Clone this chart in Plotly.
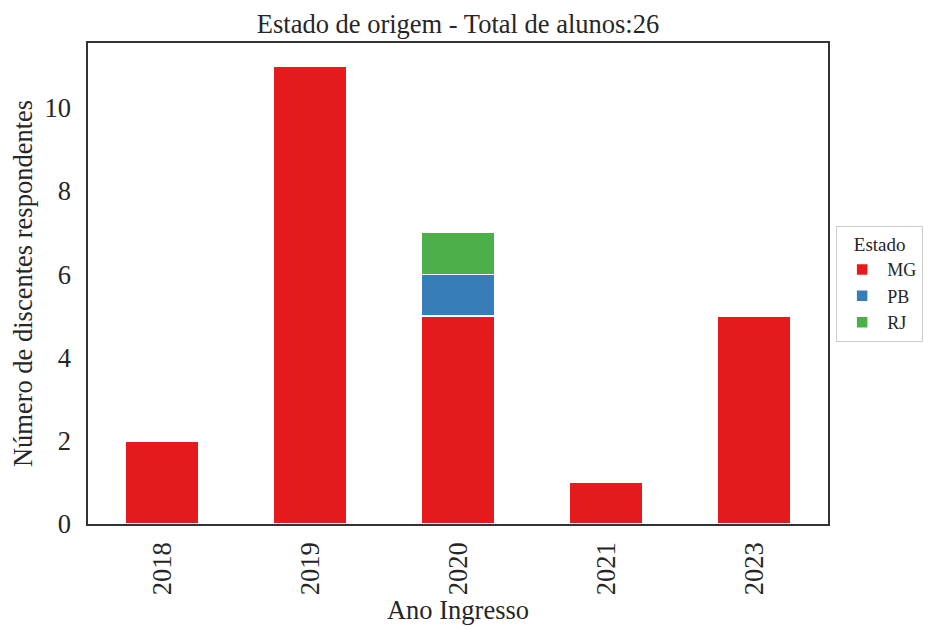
import plotly.graph_objects as go

anos = ["2018", "2019", "2020", "2021", "2023"]
mg = [2, 11, 5, 1, 5]
pb = [0, 0, 1, 0, 0]
rj = [0, 0, 1, 0, 0]
series = [("MG", mg, "#e41a1c"), ("PB", pb, "#377eb8"), ("RJ", rj, "#4daf4a")]

fig = go.Figure()
for name, vals, color in series:
    fig.add_trace(go.Bar(x=anos, y=vals, name=name, marker_color=color,
                         marker_line_color="white", marker_line_width=1.5,
                         width=0.49, legendgroup=name))

FONT = "Liberation Serif"
INK = "#262626"
SZ = 26.5
fig.update_layout(
    template="none",
    barmode="stack",
    width=933, height=629,
    margin=dict(l=80, r=113, t=35, b=113, autoexpand=False),
    paper_bgcolor="white", plot_bgcolor="white",
    font=dict(family=FONT, size=SZ, color=INK),
    title=dict(text="Estado de origem - Total de alunos:26", x=0.5, xanchor="center",
               xref="paper", y=0.99, yanchor="top",
               font=dict(family=FONT, size=SZ, color=INK)),
    legend=dict(title=dict(text="Estado", side="top center",
                           font=dict(family=FONT, size=19, color=INK)),
                x=1.011, xanchor="left", y=0.5, yanchor="middle",
                bordercolor="#cccccc", borderwidth=1,
                font=dict(family=FONT, size=18, color=INK),
                traceorder="normal", tracegroupgap=3, itemwidth=40),
    xaxis=dict(title=dict(text="Ano Ingresso", standoff=2,
                          font=dict(family=FONT, size=SZ, color=INK)),
               type="category", tickangle=-90, range=[-0.5, 4.5],
               tickfont=dict(family=FONT, size=SZ, color=INK), ticklabelstandoff=6,
               showline=True, linecolor="#333333",
               linewidth=1.5, mirror=True, showgrid=False, ticks=""),
    yaxis=dict(title=dict(text="Número de discentes respondentes", standoff=10,
                          font=dict(family=FONT, size=SZ, color=INK)),
               range=[0, 11.56], tickvals=[0, 2, 4, 6, 8, 10],
               tickfont=dict(family=FONT, size=SZ, color=INK), ticklabelstandoff=10,
               showline=True, linecolor="#333333", linewidth=1.5, mirror=True,
               showgrid=False, ticks="", zeroline=False),
)
fig.write_html("out.html")
